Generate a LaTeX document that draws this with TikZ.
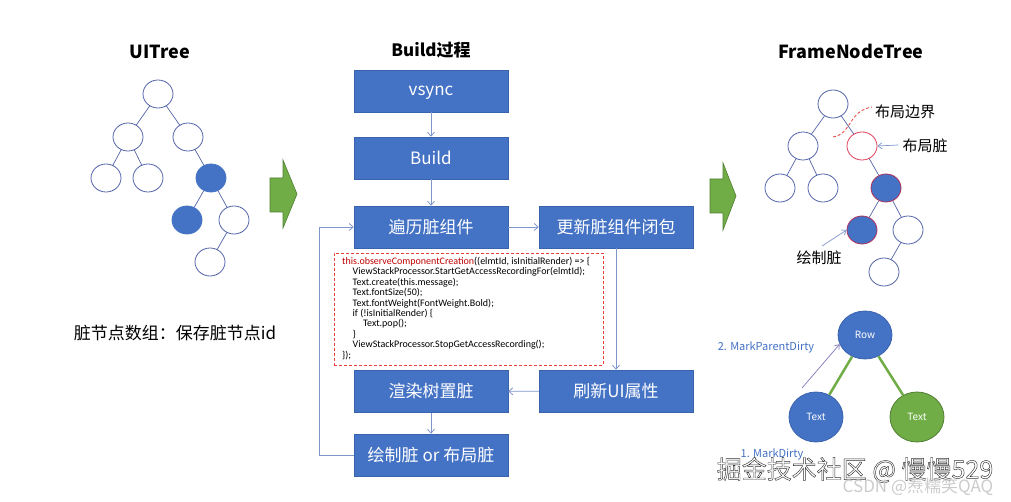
\documentclass[tikz,border=0pt]{standalone}
\usepackage{fontspec}
\setmainfont{Noto Sans CJK SC}
\newfontfamily\codefont{Carlito}
\usetikzlibrary{arrows.meta,shapes.geometric}
\definecolor{boxblue}{HTML}{4472C4}
\definecolor{boxedge}{HTML}{3A63AD}
\definecolor{treeline}{HTML}{5465A8}
\definecolor{flowline}{HTML}{7F96CC}
\definecolor{greenfill}{HTML}{70AD47}
\definecolor{greenedge}{HTML}{507E32}
\definecolor{dashred}{HTML}{E8403A}
\definecolor{codered}{HTML}{C00000}
\definecolor{dirtyred}{HTML}{E0405A}
\definecolor{dirtyedge}{HTML}{B0305A}
\definecolor{lblblue}{HTML}{4472C4}
\newcommand{\outlinetext}[1]{\special{pdf:literal direct 2 Tr 0.45 w 0.2 0.2 0.2 RG}#1\special{pdf:literal direct 0 Tr}}
\newcommand{\cjkstrut}{\vphantom{国}}
\tikzset{
  fbox/.style={rectangle, fill=boxblue, draw=boxedge, line width=0.5pt, text=white,
    minimum width=154pt, minimum height=42pt, inner sep=0pt,
    font=\fontsize{17}{19}\selectfont\cjkstrut},
  tn/.style={ellipse, draw=treeline, fill=white, line width=0.8pt, minimum width=30pt, minimum height=28pt, inner sep=0pt},
  tnfill/.style={tn, fill=boxblue, draw=boxblue},
  tnred/.style={tn, draw=dirtyred},
  tnredfill/.style={tn, fill=boxblue, draw=dirtyedge},
  tedge/.style={draw=treeline, line width=0.7pt},
  flow/.style={draw=flowline, line width=0.8pt, -{Straight Barb[length=4pt,width=7pt]}},
  lblarrow/.style={draw=flowline, line width=0.7pt, -{Straight Barb[length=4pt,width=6pt]}},
  ttl/.style={font=\bfseries\fontsize{18}{20}\selectfont},
  lbl/.style={font=\fontsize{15}{17}\selectfont, inner sep=0pt},
  bignode/.style={ellipse, minimum width=54pt, minimum height=48pt, inner sep=0pt, text=white, line width=0.8pt,
    font=\fontsize{10}{12}\selectfont},
  greenarrow/.style={fill=greenfill, draw=greenedge, line width=0.6pt, line join=miter}
}
\begin{document}
\begin{tikzpicture}[x=1pt,y=-1pt]
\useasboundingbox (0,0) rectangle (1011,502);
\fill[white] (0,0) rectangle (1011,502);

% titles
\node[ttl] (t1) at (160,52) {UITree};
\node[ttl, font=\bfseries\fontsize{17}{19}\selectfont] (t2) at (431,50) {Build过程};
\node[ttl] (t3) at (851,51) {FrameNodeTree};

% UITree
\node[tn] (u1) at (158,94) {};
\node[tn] (u2) at (128,137) {};
\node[tn] (u3) at (188,137) {};
\node[tn] (u4) at (106,178) {};
\node[tn] (u5) at (148,178) {};
\node[tnfill] (u6) at (211,178) {};
\node[tnfill] (u7) at (187,220) {};
\node[tn] (u8) at (234,220) {};
\node[tn] (u9) at (210,262) {};
\draw[tedge] (u1) -- (u2);
\draw[tedge] (u1) -- (u3);
\draw[tedge] (u2) -- (u4);
\draw[tedge] (u2) -- (u5);
\draw[tedge] (u3) -- (u6);
\draw[tedge] (u6) -- (u7);
\draw[tedge] (u6) -- (u8);
\draw[tedge] (u8) -- (u9);

\node[font=\fontsize{17}{19}\selectfont, inner sep=0pt] (dirtyarr) at (175,333) {脏节点数组：保存脏节点id};

% green arrows
\draw[greenarrow] (270,178) -- (283,178) -- (283,160) -- (297,194) -- (283,228) -- (283,212) -- (270,212) -- cycle;
\draw[greenarrow] (710,179) -- (723,179) -- (723,163) -- (736,196) -- (723,230) -- (723,213) -- (710,213) -- cycle;

% flow boxes
\node[fbox] (vs) at (431,91) {vsync};
\node[fbox] (bd) at (431,158) {Build};
\node[fbox] (tr) at (431,227) {遍历脏组件};
\node[fbox] (up) at (616,227) {更新脏组件闭包};
\node[fbox] (rd) at (431,391.5) {渲染树置脏};
\node[fbox] (rf) at (616,391) {刷新UI属性};
\node[fbox] (dw) at (431,455) {绘制脏 or 布局脏};

% code box
\node[draw=dashred, dash pattern=on 3pt off 2pt, line width=0.8pt, minimum width=269pt, minimum height=112pt, inner sep=0pt] (code) at (468.5,309) {};
\node[anchor=north west, inner sep=0pt, align=left, font=\codefont\fontsize{10}{10.4}\selectfont] (codetext) at (342,257) {%
\textcolor{codered}{this.observeComponentCreation}((elmtId, isInitialRender) => \{\\
\hspace*{10.5pt}ViewStackProcessor.StartGetAccessRecordingFor(elmtId);\\
\hspace*{10.5pt}Text.create(this.message);\\
\hspace*{10.5pt}Text.fontSize(50);\\
\hspace*{10.5pt}Text.fontWeight(FontWeight.Bold);\\
\hspace*{10.5pt}if (!isInitialRender) \{\\
\hspace*{21pt}Text.pop();\\
\hspace*{10.5pt}\}\\
\hspace*{10.5pt}ViewStackProcessor.StopGetAccessRecording();\\
\});};

% flow arrows
\draw[flow] (vs) -- (bd);
\draw[flow] (bd) -- (tr);
\draw[flow] (tr) -- (up);
\draw[flow] (up.south) -- (rf.north);
\draw[flow] (rf) -- (rd);
\draw[flow] (rd) -- (dw);
\draw[flow] (dw.west) -- ++(-34,0) |- (tr.west);

% FrameNodeTree
\node[tn] (f1) at (833,104) {};
\node[tn] (f2) at (803,146) {};
\node[tnred] (f3) at (862,146) {};
\node[tn] (f4) at (780,188) {};
\node[tn] (f5) at (823,188) {};
\node[tnredfill] (f6) at (886,188) {};
\node[tnredfill] (f7) at (862,230) {};
\node[tn] (f8) at (908,230) {};
\node[tn] (f9) at (884,272) {};
\draw[tedge] (f1) -- (f2);
\draw[tedge] (f1) -- (f3);
\draw[tedge] (f2) -- (f4);
\draw[tedge] (f2) -- (f5);
\draw[tedge] (f3) -- (f6);
\draw[tedge] (f6) -- (f7);
\draw[tedge] (f6) -- (f8);
\draw[tedge] (f8) -- (f9);

\draw[dashred, dash pattern=on 3pt off 2pt, line width=0.8pt] (833,137) .. controls (852,134) and (848,111) .. (872,107);
\node[lbl] (lb1) at (905,112) {布局边界};
\node[lbl] (lb2) at (925,146) {布局脏};
\node[lbl] (lb3) at (819,258) {绘制脏};
\draw[lblarrow] (lb2.west) ++(-4,-1) coordinate (lb2tail) -- (f3.east);
\coordinate (lb3tail) at (822,246);
\draw[lblarrow] (lb3tail) -- (f7.west);

% Row tree
\node[bignode, fill=boxblue, draw=boxedge] (row) at (865,335) {Row};
\node[bignode, fill=boxblue, draw=boxedge, minimum height=50pt] (tx1) at (816,417) {Text};
\node[bignode, fill=greenfill, draw=greenedge, minimum height=50pt] (tx2) at (917,417) {Text};
\draw[greenfill, line width=2.5pt] (row) -- (tx1);
\draw[greenfill, line width=2.5pt] (row) -- (tx2);
\node[text=lblblue, font=\fontsize{11}{13}\selectfont, inner sep=0pt] (mpd) at (766,347) {2. MarkParentDirty};
\node[text=lblblue, font=\fontsize{11}{13}\selectfont, inner sep=0pt] (md) at (772,454) {1. MarkDirty};
\coordinate (mtail) at (802,388);
\draw[draw=flowline!80!violet, line width=0.7pt, -{Straight Barb[length=4pt,width=6pt]}] (mtail) -- (row.200);

% watermarks
\node[font=\fontsize{25}{27}\selectfont, inner sep=0pt, text=white] (wm) at (855,470) {\outlinetext{掘金技术社区 @ 慢慢529}};
\node[font=\fontsize{17}{19}\selectfont, inner sep=0pt, text=black!20] (wmc) at (918,487) {CSDN @焘糯笑QAQ};
\end{tikzpicture}
\end{document}
